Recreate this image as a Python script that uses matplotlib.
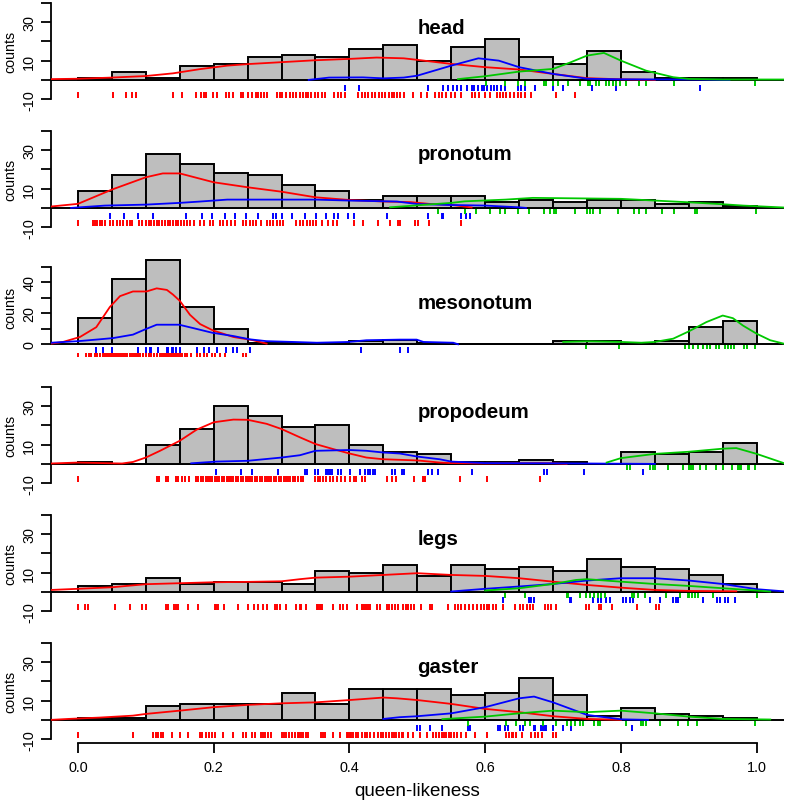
import matplotlib
matplotlib.use('Agg')
from matplotlib import pyplot as plt

plt.rcParams['font.family'] = ['Liberation Sans', 'DejaVu Sans']

# histogram bins (left edges, width 0.05)
bin_left = [0.0, 0.05, 0.1, 0.15, 0.2, 0.25, 0.3, 0.35, 0.4, 0.45,
            0.5, 0.55, 0.6, 0.65, 0.7, 0.75, 0.8, 0.85, 0.9, 0.95]
bin_width = 0.05

panel_names = ['head', 'pronotum', 'mesonotum', 'propodeum', 'legs', 'gaster']

# ---- head ----
head_counts = [1, 4, 1, 7, 8, 12, 13, 12, 16, 18, 10, 17, 21, 12, 8, 15, 4, 1, 1, 1]
head_red_x = [-0.04, 0.0, 0.05, 0.1, 0.14, 0.18, 0.22, 0.25, 0.3, 0.35, 0.4, 0.44, 0.48, 0.5, 0.55, 0.6, 0.65, 0.7, 0.75, 0.8, 0.85]
head_red_y = [0.4, 0.6, 1.2, 2.0, 3.4, 5.6, 7.4, 8.2, 9.2, 10.2, 10.9, 11.6, 11.2, 10.4, 8.3, 6.6, 5.4, 3.1, 0.9, 0.3, 0.0]
head_blue_x = [0.34, 0.37, 0.42, 0.45, 0.48, 0.5, 0.55, 0.59, 0.62, 0.65, 0.7, 0.75, 0.8, 0.9, 0.96]
head_blue_y = [0.0, 1.2, 1.3, 0.8, 1.2, 2.2, 7.4, 11.2, 10.0, 6.6, 3.1, 0.6, 0.3, 0.2, 0.0]
head_green_x = [0.56, 0.6, 0.65, 0.7, 0.725, 0.75, 0.775, 0.8, 0.837, 0.877, 0.9, 0.95, 1.04]
head_green_y = [0.4, 1.9, 4.3, 5.7, 9.0, 12.6, 14.0, 10.0, 4.8, 1.4, 0.5, 0.2, 0.2]
head_rug_red = [0.0, 0.051, 0.071, 0.079, 0.086, 0.14, 0.153, 0.174, 0.181, 0.185, 0.189, 0.199, 0.205, 0.218, 0.223,
                0.229, 0.24, 0.243, 0.251, 0.256, 0.263, 0.266, 0.27, 0.274, 0.278, 0.294, 0.297, 0.301, 0.307, 0.312,
                0.317, 0.322, 0.327, 0.331, 0.336, 0.339, 0.344, 0.349, 0.354, 0.359, 0.364, 0.378, 0.383, 0.387,
                0.393, 0.413, 0.418, 0.423, 0.428, 0.433, 0.438, 0.443, 0.448, 0.453, 0.458, 0.462, 0.466, 0.47,
                0.475, 0.48, 0.494, 0.506, 0.514, 0.526, 0.532, 0.537, 0.543, 0.55, 0.556, 0.565, 0.58, 0.585,
                0.591, 0.6, 0.607, 0.617, 0.622, 0.627, 0.631, 0.636, 0.643, 0.648, 0.653, 0.658, 0.668, 0.704, 0.733]
head_rug_blue = [0.393, 0.414, 0.516, 0.538, 0.545, 0.553, 0.558, 0.565, 0.573, 0.58, 0.584, 0.589, 0.595, 0.598,
                 0.603, 0.608, 0.613, 0.618, 0.624, 0.629, 0.648, 0.653, 0.658, 0.673, 0.7, 0.715, 0.757, 0.793, 0.916]
head_rug_green = [0.601, 0.629, 0.648, 0.659, 0.686, 0.69, 0.7, 0.707, 0.722, 0.739, 0.752, 0.755, 0.763, 0.768,
                  0.778, 0.783, 0.788, 0.793, 0.798, 0.808, 0.827, 0.837, 0.878, 0.998]

# ---- pronotum ----
pron_counts = [9, 17, 28, 23, 18, 17, 12, 9, 4, 6, 6, 6, 3, 4, 3, 4, 4, 2, 3, 1]
pron_red_x = [-0.04, 0.0, 0.05, 0.1, 0.125, 0.15, 0.2, 0.25, 0.3, 0.35, 0.4, 0.45, 0.49, 0.52, 0.55, 0.58]
pron_red_y = [0.7, 2.1, 9.5, 15.9, 17.9, 17.9, 13.3, 10.7, 8.4, 5.5, 4.1, 3.3, 3.0, 2.0, 1.6, 0.2]
pron_blue_x = [-0.01, 0.04, 0.1, 0.15, 0.18, 0.22, 0.35, 0.4, 0.47, 0.5, 0.55, 0.6, 0.65, 0.66]
pron_blue_y = [0.0, 1.2, 1.7, 2.6, 3.3, 4.3, 4.3, 3.8, 3.3, 2.0, 1.5, 1.2, 0.3, 0.0]
pron_green_x = [0.46, 0.55, 0.57, 0.63, 0.67, 0.8, 0.85, 0.9, 0.95, 0.98, 1.04]
pron_green_y = [0.3, 2.6, 3.4, 4.3, 5.2, 4.7, 3.8, 2.9, 1.9, 1.2, 0.2]
pron_rug_red = [0.0, 0.022, 0.025, 0.028, 0.032, 0.036, 0.04, 0.047, 0.052, 0.057, 0.062, 0.067, 0.072, 0.077, 0.079,
                0.09, 0.095, 0.1, 0.104, 0.108, 0.112, 0.116, 0.12, 0.124, 0.128, 0.132, 0.136, 0.14, 0.144, 0.148,
                0.152, 0.156, 0.16, 0.165, 0.171, 0.18, 0.186, 0.194, 0.199, 0.209, 0.213, 0.22, 0.226, 0.231, 0.243,
                0.248, 0.253, 0.258, 0.263, 0.27, 0.278, 0.283, 0.288, 0.293, 0.297, 0.302, 0.322, 0.327, 0.332,
                0.337, 0.342, 0.347, 0.351, 0.359, 0.369, 0.376, 0.382, 0.406, 0.42, 0.442, 0.46, 0.472, 0.474,
                0.496, 0.501, 0.517, 0.565]
pron_rug_blue = [0.047, 0.068, 0.089, 0.111, 0.159, 0.183, 0.197, 0.216, 0.231, 0.247, 0.266, 0.288, 0.292, 0.301,
                 0.315, 0.334, 0.351, 0.366, 0.378, 0.383, 0.398, 0.406, 0.455, 0.516, 0.536, 0.538, 0.565, 0.572, 0.577]
pron_rug_green = [0.531, 0.57, 0.586, 0.607, 0.622, 0.629, 0.648, 0.665, 0.686, 0.696, 0.701, 0.705, 0.733, 0.75,
                  0.754, 0.759, 0.769, 0.796, 0.819, 0.826, 0.837, 0.861, 0.878, 0.909, 0.912, 0.999]

# ---- mesonotum ----
meso_counts = [17, 42, 54, 24, 10, 1, 1, 1, 2, 3, 1, 0, 0, 0, 2, 2, 0, 2, 11, 15]
meso_red_x = [-0.04, -0.022, 0.003, 0.027, 0.047, 0.062, 0.081, 0.101, 0.116, 0.131, 0.14, 0.15, 0.165, 0.18,
              0.199, 0.229, 0.258, 0.278]
meso_red_y = [0.4, 1.5, 4.7, 11.0, 24.0, 31.0, 34.0, 34.0, 36.0, 35.0, 32.0, 28.0, 19.0, 13.0, 8.9, 4.7, 2.6, 0.4]
meso_blue_x = [-0.04, 0.0, 0.032, 0.052, 0.081, 0.099, 0.116, 0.149, 0.17, 0.198, 0.229, 0.253, 0.278, 0.317,
               0.352, 0.399, 0.425, 0.474, 0.499, 0.509, 0.553, 0.56]
meso_blue_y = [1.0, 2.0, 3.2, 4.0, 6.2, 9.6, 12.6, 12.6, 10.4, 7.4, 5.3, 3.2, 2.0, 1.5, 1.0, 1.5, 2.6, 3.0, 3.0,
               1.5, 1.0, 0.0]
meso_green_x = [0.715, 0.75, 0.8, 0.83, 0.85, 0.877, 0.9, 0.926, 0.95, 0.965, 0.98, 1.0, 1.02, 1.04]
meso_green_y = [1.5, 1.9, 1.5, 1.0, 1.5, 3.6, 8.3, 14.3, 18.5, 16.8, 12.0, 6.8, 2.6, 0.4]
meso_rug_red = [0.0, 0.012, 0.016, 0.019, 0.025, 0.028, 0.032, 0.037, 0.04, 0.043, 0.046, 0.049, 0.052, 0.055,
                0.058, 0.061, 0.064, 0.067, 0.07, 0.073, 0.076, 0.079, 0.082, 0.085, 0.088, 0.091, 0.096, 0.1,
                0.104, 0.108, 0.112, 0.116, 0.121, 0.124, 0.127, 0.13, 0.133, 0.136, 0.139, 0.142, 0.145, 0.148,
                0.151, 0.154, 0.157, 0.16, 0.167, 0.175, 0.18, 0.186, 0.19, 0.197, 0.202, 0.209, 0.217, 0.243, 0.247]
meso_rug_blue = [0.027, 0.037, 0.05, 0.089, 0.101, 0.106, 0.108, 0.118, 0.131, 0.133, 0.138, 0.14, 0.145, 0.15,
                 0.175, 0.186, 0.193, 0.205, 0.218, 0.229, 0.234, 0.254, 0.417, 0.474, 0.486]
meso_rug_green = [0.748, 0.797, 0.895, 0.9, 0.906, 0.913, 0.921, 0.927, 0.932, 0.94, 0.945, 0.953, 0.958, 0.962,
                  0.966, 0.981, 0.986, 0.997]

# ---- propodeum ----
prop_counts = [1, 0, 10, 18, 30, 25, 19, 20, 10, 6, 5, 1, 1, 2, 1, 0, 6, 5, 6, 11]
prop_red_x = [-0.04, 0.0, 0.05, 0.065, 0.081, 0.1, 0.121, 0.15, 0.175, 0.2, 0.229, 0.25, 0.278, 0.3, 0.327, 0.35,
              0.376, 0.4, 0.425, 0.45, 0.5, 0.533, 0.55, 0.6, 0.68, 0.7, 0.72]
prop_red_y = [0.2, 0.7, 0.3, 0.2, 1.0, 3.3, 6.8, 12.0, 17.8, 21.6, 23.0, 22.9, 20.8, 18.1, 13.8, 10.3, 7.7, 5.4,
              3.3, 2.4, 1.8, 0.7, 0.4, 0.2, 0.4, 0.3, 0.0]
prop_blue_x = [0.167, 0.204, 0.25, 0.3, 0.327, 0.35, 0.4, 0.425, 0.45, 0.474, 0.5, 0.533, 0.55, 0.6, 0.7, 0.85]
prop_blue_y = [0.3, 1.2, 1.6, 3.3, 4.5, 6.8, 7.2, 6.8, 5.9, 5.4, 3.8, 2.4, 1.2, 0.4, 0.3, 0.0]
prop_green_x = [0.779, 0.8, 0.85, 0.9, 0.95, 0.97, 1.0, 1.04]
prop_green_y = [0.7, 3.0, 5.2, 6.3, 7.9, 8.2, 5.2, 0.4]
prop_rug_red = [0.0, 0.116, 0.12, 0.13, 0.133, 0.144, 0.147, 0.153, 0.158, 0.164, 0.174, 0.177, 0.181, 0.184, 0.188,
                0.191, 0.195, 0.198, 0.202, 0.205, 0.208, 0.212, 0.215, 0.219, 0.222, 0.226, 0.229, 0.233, 0.236,
                0.24, 0.243, 0.247, 0.25, 0.254, 0.257, 0.261, 0.264, 0.268, 0.271, 0.275, 0.278, 0.282, 0.285,
                0.289, 0.292, 0.296, 0.299, 0.303, 0.306, 0.31, 0.313, 0.317, 0.32, 0.324, 0.329, 0.332, 0.349,
                0.353, 0.357, 0.361, 0.366, 0.371, 0.376, 0.381, 0.388, 0.393, 0.401, 0.406, 0.41, 0.418, 0.423,
                0.455, 0.462, 0.469, 0.495, 0.509, 0.51, 0.512, 0.563, 0.602, 0.681]
prop_rug_blue = [0.204, 0.24, 0.256, 0.295, 0.334, 0.337, 0.349, 0.354, 0.365, 0.369, 0.371, 0.374, 0.383, 0.388,
                 0.401, 0.415, 0.423, 0.428, 0.431, 0.434, 0.437, 0.462, 0.467, 0.478, 0.48, 0.516, 0.522, 0.531,
                 0.58, 0.686, 0.691, 0.746, 0.833]
prop_rug_green = [0.809, 0.813, 0.843, 0.847, 0.85, 0.869, 0.892, 0.901, 0.904, 0.906, 0.916, 0.926, 0.94, 0.95,
                  0.963, 0.973, 0.975, 0.977, 0.987, 0.989, 0.998]

# ---- legs ----
legs_counts = [3, 4, 7, 4, 5, 5, 4, 11, 10, 14, 8, 14, 12, 13, 11, 17, 13, 12, 9, 4]
legs_red_x = [-0.04, 0.0, 0.05, 0.1, 0.15, 0.2, 0.25, 0.3, 0.327, 0.35, 0.4, 0.45, 0.5, 0.55, 0.6, 0.65, 0.7,
              0.75, 0.8, 0.85, 0.9, 0.97]
legs_red_y = [1.0, 1.6, 2.4, 4.0, 4.5, 5.0, 5.2, 5.5, 6.6, 7.4, 7.9, 8.8, 9.7, 8.8, 8.3, 7.1, 5.3, 3.6, 2.2, 1.0,
              0.5, 0.3]
legs_blue_x = [0.55, 0.6, 0.65, 0.7, 0.75, 0.8, 0.85, 0.9, 0.95, 1.0, 1.04]
legs_blue_y = [0.2, 1.6, 2.8, 4.1, 5.9, 7.1, 7.1, 5.9, 4.1, 1.4, 0.3]
legs_green_x = [0.6, 0.65, 0.7, 0.734, 0.75, 0.8, 0.85, 0.9, 0.95, 1.0, 1.02]
legs_green_y = [0.7, 1.9, 4.1, 6.2, 6.6, 5.3, 4.1, 3.1, 1.9, 0.7, 0.2]
legs_rug_red = [0.0, 0.01, 0.015, 0.054, 0.077, 0.095, 0.101, 0.129, 0.133, 0.141, 0.144, 0.148, 0.162, 0.177,
                0.202, 0.204, 0.207, 0.215, 0.236, 0.251, 0.26, 0.266, 0.272, 0.278, 0.29, 0.294, 0.297, 0.307,
                0.322, 0.327, 0.329, 0.336, 0.352, 0.354, 0.356, 0.358, 0.36, 0.376, 0.386, 0.391, 0.396, 0.411,
                0.418, 0.421, 0.425, 0.428, 0.431, 0.44, 0.445, 0.455, 0.459, 0.462, 0.467, 0.472, 0.479, 0.483,
                0.486, 0.491, 0.495, 0.506, 0.518, 0.522, 0.545, 0.555, 0.56, 0.565, 0.57, 0.576, 0.582, 0.588,
                0.594, 0.598, 0.602, 0.606, 0.612, 0.616, 0.626, 0.644, 0.652, 0.656, 0.661, 0.666, 0.67, 0.688,
                0.693, 0.697, 0.704, 0.748, 0.753, 0.768, 0.771, 0.787, 0.823, 0.852, 0.856]
legs_rug_blue = [0.626, 0.665, 0.668, 0.672, 0.725, 0.727, 0.759, 0.766, 0.771, 0.778, 0.784, 0.803, 0.808, 0.813,
                 0.818, 0.843, 0.857, 0.877, 0.881, 0.884, 0.921, 0.941, 0.946, 0.953, 0.958, 0.968]
legs_rug_green = [0.629, 0.658, 0.72, 0.722, 0.739, 0.749, 0.755, 0.76, 0.766, 0.771, 0.776, 0.817, 0.82, 0.825,
                  0.835, 0.867, 0.887, 0.899, 0.901, 0.905, 0.909, 0.914, 0.935, 1.0]

# ---- gaster ----
gast_counts = [1, 1, 7, 8, 8, 8, 14, 8, 16, 16, 16, 13, 14, 22, 13, 2, 6, 3, 2, 1]
gast_red_x = [-0.04, -0.014, 0.032, 0.081, 0.1, 0.15, 0.2, 0.25, 0.3, 0.35, 0.4, 0.45, 0.47, 0.5, 0.55, 0.6,
              0.65, 0.7, 0.75, 0.8]
gast_red_y = [0.0, 0.5, 1.2, 2.2, 3.1, 4.8, 6.6, 7.8, 8.6, 9.1, 10.3, 11.6, 11.2, 10.3, 8.3, 5.7, 4.0, 1.9, 0.5, 0.0]
gast_blue_x = [0.45, 0.474, 0.5, 0.55, 0.6, 0.65, 0.672, 0.7, 0.75, 0.8, 0.84]
gast_blue_y = [0.5, 1.4, 1.9, 3.4, 6.6, 11.2, 12.1, 9.1, 2.6, 0.3, 0.0]
gast_green_x = [0.537, 0.6, 0.65, 0.7, 0.75, 0.8, 0.85, 0.9, 0.95, 1.02]
gast_green_y = [0.4, 1.7, 3.4, 4.8, 4.0, 4.8, 3.4, 1.7, 0.5, 0.2]
gast_rug_red = [0.0, 0.081, 0.111, 0.115, 0.118, 0.122, 0.125, 0.139, 0.15, 0.162, 0.18, 0.183, 0.189, 0.193,
                0.197, 0.202, 0.214, 0.229, 0.243, 0.248, 0.257, 0.261, 0.269, 0.272, 0.275, 0.28, 0.285, 0.3,
                0.303, 0.307, 0.311, 0.315, 0.32, 0.324, 0.326, 0.329, 0.332, 0.336, 0.339, 0.358, 0.361, 0.364,
                0.376, 0.386, 0.396, 0.398, 0.401, 0.403, 0.405, 0.409, 0.413, 0.418, 0.423, 0.426, 0.43, 0.436,
                0.442, 0.446, 0.45, 0.454, 0.459, 0.462, 0.465, 0.469, 0.473, 0.477, 0.479, 0.486, 0.494, 0.504,
                0.514, 0.523, 0.528, 0.532, 0.536, 0.539, 0.543, 0.547, 0.55, 0.554, 0.558, 0.565, 0.572, 0.585,
                0.602, 0.631, 0.635, 0.639, 0.641, 0.646, 0.654, 0.668, 0.673, 0.678, 0.683, 0.7, 0.704]
gast_rug_blue = [0.499, 0.504, 0.519, 0.537, 0.574, 0.577, 0.619, 0.622, 0.629, 0.634, 0.651, 0.656, 0.672, 0.674,
                 0.682, 0.685, 0.688, 0.69, 0.7, 0.715, 0.727, 0.817]
gast_rug_green = [0.575, 0.631, 0.646, 0.658, 0.666, 0.685, 0.705, 0.72, 0.727, 0.732, 0.739, 0.744, 0.761, 0.766,
                  0.769, 0.808, 0.83, 0.833, 0.837, 0.857, 0.884, 0.899, 0.912, 0.998]

x_ticks = [0.0, 0.2, 0.4, 0.6, 0.8, 1.0]
x_ticklabels = ['0.0', '0.2', '0.4', '0.6', '0.8', '1.0']
count_ticks = [-10, 0, 10, 20, 30, 40]
count_ticklabels = ['-10', '', '10', '', '30', '']
meso_ticks = [0, 10, 20, 30, 40, 50]
meso_ticklabels = ['0', '', '20', '', '40', '']

RED, BLUE, GREEN = '#ff0000', '#0000ff', '#00c800'
BAR = '#bebebe'

panels = [
    (head_counts, [(head_red_x, head_red_y, RED), (head_blue_x, head_blue_y, BLUE), (head_green_x, head_green_y, GREEN)],
     [head_rug_red, head_rug_blue, head_rug_green]),
    (pron_counts, [(pron_red_x, pron_red_y, RED), (pron_blue_x, pron_blue_y, BLUE), (pron_green_x, pron_green_y, GREEN)],
     [pron_rug_red, pron_rug_blue, pron_rug_green]),
    (meso_counts, [(meso_red_x, meso_red_y, RED), (meso_blue_x, meso_blue_y, BLUE), (meso_green_x, meso_green_y, GREEN)],
     [meso_rug_red, meso_rug_blue, meso_rug_green]),
    (prop_counts, [(prop_red_x, prop_red_y, RED), (prop_blue_x, prop_blue_y, BLUE), (prop_green_x, prop_green_y, GREEN)],
     [prop_rug_red, prop_rug_blue, prop_rug_green]),
    (legs_counts, [(legs_red_x, legs_red_y, RED), (legs_blue_x, legs_blue_y, BLUE), (legs_green_x, legs_green_y, GREEN)],
     [legs_rug_red, legs_rug_blue, legs_rug_green]),
    (gast_counts, [(gast_red_x, gast_red_y, RED), (gast_blue_x, gast_blue_y, BLUE), (gast_green_x, gast_green_y, GREEN)],
     [gast_rug_red, gast_rug_blue, gast_rug_green]),
]

# layout (pixels)
W, H = 785, 803
left_px, width_px = 50.8, 733
panel_step, panel_h = 128, 104

count_rug_levels = [(-6.3, -9.5), (-2.7, -6.0), (-0.5, -3.3)]
meso_rug_levels = [(-5.3, -8.5), (-1.7, -5.3), (-0.2, -3.2)]
title_y = [24.2, 25.5, 23.2, 24.5, 24.9, 24.7]

fig = plt.figure(figsize=(W / 100, H / 100), dpi=100)

for i, (counts, curves, rugs) in enumerate(panels):
    top = panel_step * i
    ax = fig.add_axes([left_px / W, 1 - (top + panel_h) / H, width_px / W, panel_h / H])
    is_meso = panel_names[i] == 'mesonotum'

    ax.axhline(0, color='black', lw=1.4, zorder=1)
    ax.bar(bin_left, counts, width=bin_width, align='edge', color=BAR,
           edgecolor='black', linewidth=1.4, zorder=2)
    for cx, cy, col in curves:
        ax.plot(cx, cy, color=col, lw=1.3, zorder=3)
    levels = meso_rug_levels if is_meso else count_rug_levels
    for vals, (y0, y1), col in zip(rugs, levels, [RED, BLUE, GREEN]):
        ax.vlines(vals, y1, y0, color=col, lw=1.4, zorder=3)

    ax.text(0.5, title_y[i], panel_names[i], fontsize=14.7, fontweight='bold',
            ha='left', va='baseline', zorder=5)

    ax.set_xlim(-0.04, 1.04)
    if is_meso:
        ax.set_ylim(-9.48, 57.48)
        ax.set_yticks(meso_ticks)
        ax.set_yticklabels(meso_ticklabels)
        ax.spines['left'].set_bounds(0, 50)
    else:
        ax.set_ylim(-12, 42)
        ax.set_yticks(count_ticks)
        ax.set_yticklabels(count_ticklabels)
        ax.spines['left'].set_bounds(-10, 40)

    for s in ['top', 'right']:
        ax.spines[s].set_visible(False)
    ax.spines['left'].set_linewidth(1.3)
    ax.tick_params(axis='y', length=7, width=1.3, pad=3.5, labelsize=10.4, labelrotation=90)
    for lab in ax.get_yticklabels():
        lab.set_va('center')

    if i == len(panels) - 1:
        ax.spines['bottom'].set_bounds(0, 1)
        ax.spines['bottom'].set_linewidth(1.3)
        ax.set_xticks(x_ticks)
        ax.set_xticklabels(x_ticklabels)
        ax.tick_params(axis='x', length=7, width=1.3, pad=5, labelsize=10.4)
        ax.set_xlabel('queen-likeness', fontsize=13.5, labelpad=6)
    else:
        ax.spines['bottom'].set_visible(False)
        ax.set_xticks([])

    fig.text(10.5 / W, 1 - (top + panel_h / 2) / H, 'counts', rotation=90,
             ha='center', va='center', fontsize=10.3)

fig.savefig('out.png', dpi=100)
